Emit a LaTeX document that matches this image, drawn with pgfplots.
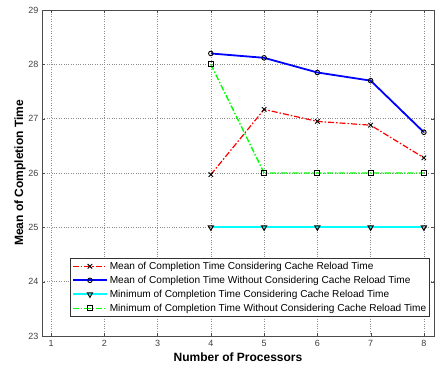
\documentclass[border=0pt]{standalone}
\usepackage{fontspec}
\setmainfont{Liberation Sans}
\usepackage{pgfplots}
\pgfplotsset{compat=1.18}
\definecolor{mred}{RGB}{255,0,0}
\definecolor{mblue}{RGB}{0,0,255}
\definecolor{mcyan}{RGB}{0,255,255}
\definecolor{mgreen}{RGB}{0,255,0}
\begin{document}
\begin{tikzpicture}[x=1pt,y=1pt]
\begin{axis}[
  at={(0,0)}, anchor=south west,
  scale only axis, width=392pt, height=326pt,
  xmin=0.83, xmax=8.19, ymin=23, ymax=29,
  xtick={1,...,8}, ytick={23,...,29},
  /pgf/number format/assume math mode=true,
  tick label style={font=\fontsize{9}{10}\selectfont, text=black!75},
  xticklabel style={yshift=-1pt},
  tick align=inside, major tick length=3pt,
  tick style={black!70},
  axis line style={black!70, line width=0.8pt},
  grid=major,
  major grid style={dotted, black!45, line width=0.6pt},
  xlabel={\bfseries Number of Processors},
  ylabel={\bfseries Mean of Completion Time},
  label style={font=\fontsize{12}{13}\selectfont},
  xlabel style={yshift=1pt},
  ylabel style={yshift=-4pt},
  legend cell align=left,
  legend style={at={(rel axis cs:0.072,0.239)}, anchor=north west,
    font=\fontsize{10.1}{11}\selectfont, draw=black!80, fill=white,
    row sep=1.2pt, inner sep=1.5pt, line width=0.6pt},
  legend image code/.code={\draw[mark repeat=2,mark phase=2] plot coordinates {(0pt,0pt) (17pt,0pt) (34pt,0pt)};},
  every axis plot/.append style={mark size=2.6pt},
]
\addplot[mred, line width=1.2pt, dash pattern=on 6pt off 2pt on 1.5pt off 2pt,
  mark=x, mark options={black, solid, line width=0.9pt, mark size=3.2pt}]
  coordinates {(4,25.97) (5,27.17) (6,26.95) (7,26.88) (8,26.28)};
\addlegendentry{Mean of Completion Time Considering Cache Reload Time}
\addplot[mblue, line width=1.8pt,
  mark=o, mark options={black, solid, line width=0.9pt, mark size=2.3pt}]
  coordinates {(4,28.2) (5,28.12) (6,27.85) (7,27.7) (8,26.75)};
\addlegendentry{Mean of Completion Time Without Considering Cache Reload Time}
\addplot[mcyan, line width=1.8pt,
  mark=triangle, mark options={black, solid, rotate=180, line width=1pt, mark size=3pt}]
  coordinates {(4,25) (5,25) (6,25) (7,25) (8,25)};
\addlegendentry{Minimum of Completion Time Considering Cache Reload Time}
\addplot[mgreen, line width=1.4pt, dash pattern=on 6pt off 2pt on 1.5pt off 2pt,
  mark=square, mark options={black, solid, line width=1pt, mark size=2.6pt}]
  coordinates {(4,28) (5,26) (6,26) (7,26) (8,26)};
\addlegendentry{Minimum of Completion Time Without Considering Cache Reload Time}
\end{axis}
\pgfresetboundingbox
\path (-42pt,-33pt) rectangle (397pt,336pt);
\end{tikzpicture}
\end{document}
